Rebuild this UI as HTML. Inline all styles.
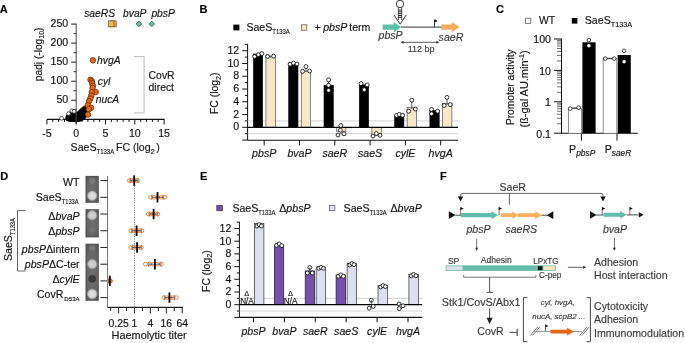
<!DOCTYPE html>
<html><head><meta charset="utf-8"><style>
html,body{margin:0;padding:0;background:#fff;overflow:hidden;}
svg{display:block;will-change:transform;}
text{font-family:"Liberation Sans", sans-serif;}
</style></head><body>
<svg width="685" height="343" viewBox="0 0 685 343">
<defs><radialGradient id="plr" cx="0.5" cy="0.5" r="0.7"><stop offset="0" stop-color="#6e6e6e"/><stop offset="0.6" stop-color="#666"/><stop offset="1" stop-color="#545454"/></radialGradient>
<radialGradient id="big" cx="0.5" cy="0.5" r="0.5"><stop offset="0" stop-color="#e4e4e4"/><stop offset="0.7" stop-color="#d6d6d6"/><stop offset="1" stop-color="#b8b8b8"/></radialGradient>
<radialGradient id="big2" cx="0.5" cy="0.5" r="0.5"><stop offset="0" stop-color="#d4d4d4"/><stop offset="0.7" stop-color="#c8c8c8"/><stop offset="1" stop-color="#aaaaaa"/></radialGradient></defs>
<rect width="685" height="343" fill="#fff"/>
<text x="-0.3" y="12.7" font-size="11" text-anchor="start" fill="#000" stroke="#000" stroke-width="0.15" font-weight="bold" >A</text>
<text x="199.4" y="12.7" font-size="11" text-anchor="start" fill="#000" stroke="#000" stroke-width="0.15" font-weight="bold" >B</text>
<text x="495.9" y="12.7" font-size="11" text-anchor="start" fill="#000" stroke="#000" stroke-width="0.15" font-weight="bold" >C</text>
<text x="0.2" y="179.7" font-size="11" text-anchor="start" fill="#000" stroke="#000" stroke-width="0.15" font-weight="bold" >D</text>
<text x="199.9" y="179.7" font-size="11" text-anchor="start" fill="#000" stroke="#000" stroke-width="0.15" font-weight="bold" >E</text>
<text x="439.9" y="179.7" font-size="11" text-anchor="start" fill="#000" stroke="#000" stroke-width="0.15" font-weight="bold" >F</text>
<line x1="71.2" y1="119.3" x2="76.2" y2="119.3" stroke="#222" stroke-width="1" />
<line x1="73.6" y1="109.78" x2="76.2" y2="109.78" stroke="#222" stroke-width="1" />
<line x1="71.2" y1="100.25999999999999" x2="76.2" y2="100.25999999999999" stroke="#222" stroke-width="1" />
<text x="68.2" y="103.35999999999999" font-size="10.6" text-anchor="end" fill="#141414" stroke="#141414" stroke-width="0.15" >50</text>
<line x1="73.6" y1="90.74" x2="76.2" y2="90.74" stroke="#222" stroke-width="1" />
<line x1="71.2" y1="81.22" x2="76.2" y2="81.22" stroke="#222" stroke-width="1" />
<text x="68.2" y="84.32" font-size="10.6" text-anchor="end" fill="#141414" stroke="#141414" stroke-width="0.15" >100</text>
<line x1="73.6" y1="71.69999999999999" x2="76.2" y2="71.69999999999999" stroke="#222" stroke-width="1" />
<line x1="71.2" y1="62.17999999999999" x2="76.2" y2="62.17999999999999" stroke="#222" stroke-width="1" />
<text x="68.2" y="65.27999999999999" font-size="10.6" text-anchor="end" fill="#141414" stroke="#141414" stroke-width="0.15" >150</text>
<line x1="73.6" y1="52.66" x2="76.2" y2="52.66" stroke="#222" stroke-width="1" />
<line x1="71.2" y1="43.139999999999986" x2="76.2" y2="43.139999999999986" stroke="#222" stroke-width="1" />
<text x="68.2" y="46.23999999999999" font-size="10.6" text-anchor="end" fill="#141414" stroke="#141414" stroke-width="0.15" >200</text>
<line x1="73.6" y1="33.61999999999999" x2="76.2" y2="33.61999999999999" stroke="#222" stroke-width="1" />
<line x1="71.2" y1="24.099999999999994" x2="76.2" y2="24.099999999999994" stroke="#222" stroke-width="1" />
<text x="68.2" y="27.199999999999996" font-size="10.6" text-anchor="end" fill="#141414" stroke="#141414" stroke-width="0.15" >250</text>
<line x1="46.900000000000006" y1="119.4" x2="164.60000000000002" y2="119.4" stroke="#111" stroke-width="1.1" />
<line x1="46.900000000000006" y1="119.4" x2="46.900000000000006" y2="124.4" stroke="#111" stroke-width="1" />
<text x="46.900000000000006" y="136.6" font-size="10.6" text-anchor="middle" fill="#141414" stroke="#141414" stroke-width="0.15" >-5</text>
<line x1="52.760000000000005" y1="119.4" x2="52.760000000000005" y2="121.9" stroke="#111" stroke-width="1" />
<line x1="58.620000000000005" y1="119.4" x2="58.620000000000005" y2="121.9" stroke="#111" stroke-width="1" />
<line x1="64.48" y1="119.4" x2="64.48" y2="121.9" stroke="#111" stroke-width="1" />
<line x1="70.34" y1="119.4" x2="70.34" y2="121.9" stroke="#111" stroke-width="1" />
<line x1="76.2" y1="119.4" x2="76.2" y2="124.4" stroke="#111" stroke-width="1" />
<text x="76.2" y="136.6" font-size="10.6" text-anchor="middle" fill="#141414" stroke="#141414" stroke-width="0.15" >0</text>
<line x1="82.06" y1="119.4" x2="82.06" y2="121.9" stroke="#111" stroke-width="1" />
<line x1="87.92" y1="119.4" x2="87.92" y2="121.9" stroke="#111" stroke-width="1" />
<line x1="93.78" y1="119.4" x2="93.78" y2="121.9" stroke="#111" stroke-width="1" />
<line x1="99.64" y1="119.4" x2="99.64" y2="121.9" stroke="#111" stroke-width="1" />
<line x1="105.5" y1="119.4" x2="105.5" y2="124.4" stroke="#111" stroke-width="1" />
<text x="105.5" y="136.6" font-size="10.6" text-anchor="middle" fill="#141414" stroke="#141414" stroke-width="0.15" >5</text>
<line x1="111.36000000000001" y1="119.4" x2="111.36000000000001" y2="121.9" stroke="#111" stroke-width="1" />
<line x1="117.22" y1="119.4" x2="117.22" y2="121.9" stroke="#111" stroke-width="1" />
<line x1="123.08000000000001" y1="119.4" x2="123.08000000000001" y2="121.9" stroke="#111" stroke-width="1" />
<line x1="128.94" y1="119.4" x2="128.94" y2="121.9" stroke="#111" stroke-width="1" />
<line x1="134.8" y1="119.4" x2="134.8" y2="124.4" stroke="#111" stroke-width="1" />
<text x="134.8" y="136.6" font-size="10.6" text-anchor="middle" fill="#141414" stroke="#141414" stroke-width="0.15" >10</text>
<line x1="140.66000000000003" y1="119.4" x2="140.66000000000003" y2="121.9" stroke="#111" stroke-width="1" />
<line x1="146.52" y1="119.4" x2="146.52" y2="121.9" stroke="#111" stroke-width="1" />
<line x1="152.38" y1="119.4" x2="152.38" y2="121.9" stroke="#111" stroke-width="1" />
<line x1="158.24" y1="119.4" x2="158.24" y2="121.9" stroke="#111" stroke-width="1" />
<line x1="164.10000000000002" y1="119.4" x2="164.10000000000002" y2="124.4" stroke="#111" stroke-width="1" />
<text x="164.10000000000002" y="136.6" font-size="10.6" text-anchor="middle" fill="#141414" stroke="#141414" stroke-width="0.15" >15</text>
<text x="70.6" y="151" font-size="10.6" fill="#141414" stroke="#141414" stroke-width="0.15">SaeS<tspan font-size="7.4" dy="2.9" textLength="17.6" lengthAdjust="spacingAndGlyphs">T133A</tspan><tspan font-size="10.6" dy="-2.9" dx="1.8">FC (log</tspan><tspan font-size="7.2" dy="2.6">2</tspan><tspan font-size="10.6" dy="-2.6" dx="1.5">)</tspan></text>
<text transform="translate(41.6,81.2) rotate(-90)" x="0" y="0" font-size="10.2" fill="#141414" stroke="#141414" stroke-width="0.15">padj (-log<tspan font-size="7" dy="2.4">10</tspan><tspan font-size="10.2" dy="-2.4">)</tspan></text>
<text x="84.2" y="16.6" font-size="10.3" text-anchor="start" fill="#141414" stroke="#141414" stroke-width="0.15" font-style="italic" >saeRS</text>
<text x="123.0" y="16.6" font-size="10.3" text-anchor="start" fill="#141414" stroke="#141414" stroke-width="0.15" font-style="italic" >bvaP</text>
<text x="151.4" y="16.6" font-size="10.3" text-anchor="start" fill="#141414" stroke="#141414" stroke-width="0.15" font-style="italic" >pbsP</text>
<rect x="110.4" y="20.9" width="5.8" height="5.9" fill="#f7a848" stroke="#6a4a1a" stroke-width="0.7" />
<rect x="108.6" y="20.9" width="5.4" height="5.9" fill="#f9b664" stroke="#6a4a1a" stroke-width="0.7" />
<path d="M139.0,21.099999999999998 L141.8,23.9 L139.0,26.7 L136.2,23.9 Z" fill="#5fbcaa" stroke="#2a4a44" stroke-width="0.7" />
<path d="M151.8,21.099999999999998 L154.60000000000002,23.9 L151.8,26.7 L149.0,23.9 Z" fill="#5fbcaa" stroke="#2a4a44" stroke-width="0.7" />
<circle cx="85.0" cy="108.4" r="2.75" fill="#e56a18" stroke="#5a2000" stroke-width="0.7" />
<circle cx="83.2" cy="110.0" r="2.75" fill="#e56a18" stroke="#5a2000" stroke-width="0.7" />
<circle cx="81.5" cy="111.6" r="2.75" fill="#e56a18" stroke="#5a2000" stroke-width="0.7" />
<path d="M65.3,118.8 C65.4,115.5 67.5,112.6 70.4,112.0 L75.5,112.8 L78.4,110.8 L84.0,106.6 C85.8,105.9 87.2,107.2 87.2,109.0 L87.0,115.5 C86.0,120.0 81,122.2 76.5,122.2 L69,121.8 C66.6,121.4 65.3,120.6 65.3,118.8 Z" fill="#000" stroke="none" stroke-width="1" />
<circle cx="71.8" cy="110.8" r="1.9" fill="#fff" stroke="#222" stroke-width="0.7" />
<circle cx="74.1" cy="111.4" r="1.9" fill="#fff" stroke="#222" stroke-width="0.7" />
<circle cx="61.6" cy="118.3" r="1.9" fill="#fff" stroke="#222" stroke-width="0.7" />
<circle cx="68.6" cy="113.6" r="1.9" fill="#fff" stroke="#222" stroke-width="0.7" />
<circle cx="92.9" cy="60.3" r="2.75" fill="#e56a18" stroke="#5a2000" stroke-width="0.7" />
<circle cx="90.5" cy="79.8" r="2.75" fill="#e56a18" stroke="#5a2000" stroke-width="0.7" />
<circle cx="91.8" cy="81.2" r="2.75" fill="#e56a18" stroke="#5a2000" stroke-width="0.7" />
<circle cx="92.2" cy="83.2" r="2.75" fill="#e56a18" stroke="#5a2000" stroke-width="0.7" />
<circle cx="92.9" cy="85.7" r="2.75" fill="#e56a18" stroke="#5a2000" stroke-width="0.7" />
<circle cx="92.5" cy="88" r="2.75" fill="#e56a18" stroke="#5a2000" stroke-width="0.7" />
<circle cx="95.7" cy="92.1" r="2.75" fill="#e56a18" stroke="#5a2000" stroke-width="0.7" />
<circle cx="91.8" cy="92.1" r="2.75" fill="#e56a18" stroke="#5a2000" stroke-width="0.7" />
<circle cx="91.3" cy="95.6" r="2.75" fill="#e56a18" stroke="#5a2000" stroke-width="0.7" />
<circle cx="90.3" cy="98.6" r="2.75" fill="#e56a18" stroke="#5a2000" stroke-width="0.7" />
<circle cx="89.0" cy="101.2" r="2.75" fill="#e56a18" stroke="#5a2000" stroke-width="0.7" />
<circle cx="87.8" cy="105.2" r="2.75" fill="#e56a18" stroke="#5a2000" stroke-width="0.7" />
<circle cx="91.1" cy="107.8" r="2.75" fill="#e56a18" stroke="#5a2000" stroke-width="0.7" />
<circle cx="88.8" cy="109.2" r="2.75" fill="#e56a18" stroke="#5a2000" stroke-width="0.7" />
<circle cx="88.0" cy="114.6" r="2.75" fill="#e56a18" stroke="#5a2000" stroke-width="0.7" />
<line x1="76.2" y1="23.599999999999994" x2="76.2" y2="124.5" stroke="#4a4a4a" stroke-width="1" />
<text x="97.1" y="63.9" font-size="10.3" text-anchor="start" fill="#141414" stroke="#141414" stroke-width="0.15" font-style="italic" >hvgA</text>
<text x="97.8" y="84.7" font-size="10.3" text-anchor="start" fill="#141414" stroke="#141414" stroke-width="0.15" font-style="italic" >cyl</text>
<text x="95.7" y="102.6" font-size="10.3" text-anchor="start" fill="#141414" stroke="#141414" stroke-width="0.15" font-style="italic" >nucA</text>
<path d="M133.9,56.6 L144.1,56.6 L144.1,112.9 L133.9,112.9" fill="none" stroke="#bdbdbd" stroke-width="1" />
<text x="148.6" y="78.6" font-size="10.4" text-anchor="start" fill="#141414" stroke="#141414" stroke-width="0.15" >CovR</text>
<text x="148.6" y="90.8" font-size="10.4" text-anchor="start" fill="#141414" stroke="#141414" stroke-width="0.15" >direct</text>
<line x1="247.6" y1="44.06" x2="247.6" y2="140.2" stroke="#111" stroke-width="1" />
<line x1="242.2" y1="140.06" x2="247.6" y2="140.06" stroke="#111" stroke-width="1" />
<line x1="244.9" y1="133.68" x2="247.6" y2="133.68" stroke="#111" stroke-width="1" />
<line x1="242.2" y1="127.3" x2="247.6" y2="127.3" stroke="#111" stroke-width="1" />
<text x="239.2" y="130.4" font-size="10.6" text-anchor="end" fill="#141414" stroke="#141414" stroke-width="0.15" >0</text>
<line x1="244.9" y1="120.92" x2="247.6" y2="120.92" stroke="#111" stroke-width="1" />
<line x1="242.2" y1="114.53999999999999" x2="247.6" y2="114.53999999999999" stroke="#111" stroke-width="1" />
<text x="239.2" y="117.63999999999999" font-size="10.6" text-anchor="end" fill="#141414" stroke="#141414" stroke-width="0.15" >2</text>
<line x1="244.9" y1="108.16" x2="247.6" y2="108.16" stroke="#111" stroke-width="1" />
<line x1="242.2" y1="101.78" x2="247.6" y2="101.78" stroke="#111" stroke-width="1" />
<text x="239.2" y="104.88" font-size="10.6" text-anchor="end" fill="#141414" stroke="#141414" stroke-width="0.15" >4</text>
<line x1="244.9" y1="95.4" x2="247.6" y2="95.4" stroke="#111" stroke-width="1" />
<line x1="242.2" y1="89.02" x2="247.6" y2="89.02" stroke="#111" stroke-width="1" />
<text x="239.2" y="92.11999999999999" font-size="10.6" text-anchor="end" fill="#141414" stroke="#141414" stroke-width="0.15" >6</text>
<line x1="244.9" y1="82.64" x2="247.6" y2="82.64" stroke="#111" stroke-width="1" />
<line x1="242.2" y1="76.25999999999999" x2="247.6" y2="76.25999999999999" stroke="#111" stroke-width="1" />
<text x="239.2" y="79.35999999999999" font-size="10.6" text-anchor="end" fill="#141414" stroke="#141414" stroke-width="0.15" >8</text>
<line x1="244.9" y1="69.88" x2="247.6" y2="69.88" stroke="#111" stroke-width="1" />
<line x1="242.2" y1="63.5" x2="247.6" y2="63.5" stroke="#111" stroke-width="1" />
<text x="239.2" y="66.6" font-size="10.6" text-anchor="end" fill="#141414" stroke="#141414" stroke-width="0.15" >10</text>
<line x1="244.9" y1="57.120000000000005" x2="247.6" y2="57.120000000000005" stroke="#111" stroke-width="1" />
<line x1="242.2" y1="50.739999999999995" x2="247.6" y2="50.739999999999995" stroke="#111" stroke-width="1" />
<text x="239.2" y="53.839999999999996" font-size="10.6" text-anchor="end" fill="#141414" stroke="#141414" stroke-width="0.15" >12</text>
<line x1="244.9" y1="44.36" x2="247.6" y2="44.36" stroke="#111" stroke-width="1" />
<line x1="247.6" y1="120.92" x2="458" y2="120.92" stroke="#c8c8c8" stroke-width="0.8" />
<line x1="247.6" y1="133.68" x2="458" y2="133.68" stroke="#c8c8c8" stroke-width="0.8" />
<line x1="247.6" y1="140.2" x2="458" y2="140.2" stroke="#111" stroke-width="1.1" />
<line x1="264.2" y1="140.2" x2="264.2" y2="145.4" stroke="#111" stroke-width="1" />
<text x="264.2" y="157.4" font-size="10.6" text-anchor="middle" fill="#141414" stroke="#141414" stroke-width="0.15" font-style="italic" >pbsP</text>
<line x1="299.5" y1="140.2" x2="299.5" y2="145.4" stroke="#111" stroke-width="1" />
<text x="299.5" y="157.4" font-size="10.6" text-anchor="middle" fill="#141414" stroke="#141414" stroke-width="0.15" font-style="italic" >bvaP</text>
<line x1="334.79999999999995" y1="140.2" x2="334.79999999999995" y2="145.4" stroke="#111" stroke-width="1" />
<text x="334.79999999999995" y="157.4" font-size="10.6" text-anchor="middle" fill="#141414" stroke="#141414" stroke-width="0.15" font-style="italic" >saeR</text>
<line x1="370.09999999999997" y1="140.2" x2="370.09999999999997" y2="145.4" stroke="#111" stroke-width="1" />
<text x="370.09999999999997" y="157.4" font-size="10.6" text-anchor="middle" fill="#141414" stroke="#141414" stroke-width="0.15" font-style="italic" >saeS</text>
<line x1="405.4" y1="140.2" x2="405.4" y2="145.4" stroke="#111" stroke-width="1" />
<text x="405.4" y="157.4" font-size="10.6" text-anchor="middle" fill="#141414" stroke="#141414" stroke-width="0.15" font-style="italic" >cylE</text>
<line x1="440.7" y1="140.2" x2="440.7" y2="145.4" stroke="#111" stroke-width="1" />
<text x="440.7" y="157.4" font-size="10.6" text-anchor="middle" fill="#141414" stroke="#141414" stroke-width="0.15" font-style="italic" >hvgA</text>
<rect x="253.39999999999998" y="54.0" width="9.3" height="73.3" fill="#000" stroke="#000" stroke-width="0.6" />
<rect x="265.95" y="56.6" width="9.4" height="70.69999999999999" fill="#f6e8c8" stroke="#555" stroke-width="0.7" />
<rect x="288.7" y="63.6" width="9.3" height="63.699999999999996" fill="#000" stroke="#000" stroke-width="0.6" />
<rect x="301.25" y="71.1" width="9.4" height="56.2" fill="#f6e8c8" stroke="#555" stroke-width="0.7" />
<rect x="323.99999999999994" y="85.2" width="9.3" height="42.099999999999994" fill="#000" stroke="#000" stroke-width="0.6" />
<rect x="336.54999999999995" y="127.3" width="9.4" height="4.000000000000014" fill="#f6e8c8" stroke="#555" stroke-width="0.7" />
<rect x="359.29999999999995" y="84.9" width="9.3" height="42.39999999999999" fill="#000" stroke="#000" stroke-width="0.6" />
<rect x="371.84999999999997" y="127.3" width="9.4" height="8.399999999999991" fill="#f6e8c8" stroke="#555" stroke-width="0.7" />
<rect x="394.59999999999997" y="115.5" width="9.3" height="11.799999999999997" fill="#000" stroke="#000" stroke-width="0.6" />
<rect x="407.15" y="107.2" width="9.4" height="20.099999999999994" fill="#f6e8c8" stroke="#555" stroke-width="0.7" />
<rect x="429.9" y="110.5" width="9.3" height="16.799999999999997" fill="#000" stroke="#000" stroke-width="0.6" />
<rect x="442.45" y="103.3" width="9.4" height="24.0" fill="#f6e8c8" stroke="#555" stroke-width="0.7" />
<line x1="247.6" y1="127.3" x2="458" y2="127.3" stroke="#000" stroke-width="1.3" />
<line x1="258.5" y1="53.0" x2="258.5" y2="56" stroke="#333" stroke-width="0.8" />
<line x1="270.5" y1="55.5" x2="270.5" y2="57.5" stroke="#333" stroke-width="0.8" />
<line x1="306" y1="67" x2="306" y2="72" stroke="#333" stroke-width="0.8" />
<line x1="328.6" y1="80" x2="328.6" y2="90" stroke="#333" stroke-width="0.8" />
<line x1="341" y1="126" x2="341" y2="134" stroke="#333" stroke-width="0.8" />
<line x1="376.3" y1="133.5" x2="376.3" y2="136" stroke="#333" stroke-width="0.8" />
<line x1="411.8" y1="100.2" x2="411.8" y2="109" stroke="#333" stroke-width="0.8" />
<line x1="447" y1="97.4" x2="447" y2="105" stroke="#333" stroke-width="0.8" />
<circle cx="254.6" cy="56.5" r="1.95" fill="#fff" stroke="#111" stroke-width="0.85" />
<circle cx="258.4" cy="54.6" r="1.95" fill="#fff" stroke="#111" stroke-width="0.85" />
<circle cx="261.9" cy="53.6" r="1.95" fill="#fff" stroke="#111" stroke-width="0.85" />
<circle cx="267.6" cy="56.4" r="1.95" fill="#fff" stroke="#111" stroke-width="0.85" />
<circle cx="273.6" cy="56.2" r="1.95" fill="#fff" stroke="#111" stroke-width="0.85" />
<circle cx="290.0" cy="64.2" r="1.95" fill="#fff" stroke="#111" stroke-width="0.85" />
<circle cx="293.6" cy="63.1" r="1.95" fill="#fff" stroke="#111" stroke-width="0.85" />
<circle cx="297.0" cy="64.0" r="1.95" fill="#fff" stroke="#111" stroke-width="0.85" />
<circle cx="302.6" cy="71.3" r="1.95" fill="#fff" stroke="#111" stroke-width="0.85" />
<circle cx="306.0" cy="66.6" r="1.95" fill="#fff" stroke="#111" stroke-width="0.85" />
<circle cx="309.6" cy="71.0" r="1.95" fill="#fff" stroke="#111" stroke-width="0.85" />
<circle cx="328.6" cy="79.9" r="1.95" fill="#fff" stroke="#111" stroke-width="0.85" />
<circle cx="328.6" cy="85.3" r="1.95" fill="#fff" stroke="#111" stroke-width="0.85" />
<circle cx="328.6" cy="90.4" r="1.95" fill="#fff" stroke="#111" stroke-width="0.85" />
<circle cx="340.8" cy="125.6" r="1.95" fill="#fff" stroke="#111" stroke-width="0.85" />
<circle cx="338.0" cy="135.0" r="1.95" fill="#fff" stroke="#111" stroke-width="0.85" />
<circle cx="344.0" cy="133.8" r="1.95" fill="#fff" stroke="#111" stroke-width="0.85" />
<circle cx="340.4" cy="130.2" r="1.95" fill="#fff" stroke="#111" stroke-width="0.85" />
<circle cx="361.0" cy="83.6" r="1.95" fill="#fff" stroke="#111" stroke-width="0.85" />
<circle cx="367.1" cy="84.9" r="1.95" fill="#fff" stroke="#111" stroke-width="0.85" />
<circle cx="364.3" cy="89.7" r="1.95" fill="#fff" stroke="#111" stroke-width="0.85" />
<circle cx="373.0" cy="136.1" r="1.95" fill="#fff" stroke="#111" stroke-width="0.85" />
<circle cx="376.3" cy="133.5" r="1.95" fill="#fff" stroke="#111" stroke-width="0.85" />
<circle cx="380.0" cy="135.3" r="1.95" fill="#fff" stroke="#111" stroke-width="0.85" />
<circle cx="396.5" cy="115.5" r="1.95" fill="#fff" stroke="#111" stroke-width="0.85" />
<circle cx="399.3" cy="114.4" r="1.95" fill="#fff" stroke="#111" stroke-width="0.85" />
<circle cx="402.6" cy="115.3" r="1.95" fill="#fff" stroke="#111" stroke-width="0.85" />
<circle cx="411.8" cy="100.2" r="1.95" fill="#fff" stroke="#111" stroke-width="0.85" />
<circle cx="408.7" cy="111.2" r="1.95" fill="#fff" stroke="#111" stroke-width="0.85" />
<circle cx="415.3" cy="109.0" r="1.95" fill="#fff" stroke="#111" stroke-width="0.85" />
<circle cx="431.5" cy="109.4" r="1.95" fill="#fff" stroke="#111" stroke-width="0.85" />
<circle cx="437.6" cy="111.2" r="1.95" fill="#fff" stroke="#111" stroke-width="0.85" />
<circle cx="431.5" cy="113.8" r="1.95" fill="#fff" stroke="#111" stroke-width="0.85" />
<circle cx="447.0" cy="97.4" r="1.95" fill="#fff" stroke="#111" stroke-width="0.85" />
<circle cx="444.2" cy="105.5" r="1.95" fill="#fff" stroke="#111" stroke-width="0.85" />
<circle cx="450.3" cy="104.6" r="1.95" fill="#fff" stroke="#111" stroke-width="0.85" />
<text transform="translate(218.0,114.0) rotate(-90)" font-size="10.4" fill="#141414" stroke="#141414" stroke-width="0.15">FC (log<tspan font-size="7.2" dy="2.5">2</tspan><tspan font-size="10.4" dy="-2.5">)</tspan></text>
<rect x="233.4" y="24.6" width="6.0" height="5.8" fill="#000" stroke="none" stroke-width="0.8" />
<text x="246.4" y="31.1" font-size="10.6" fill="#141414" stroke="#141414" stroke-width="0.15">SaeS<tspan font-size="7.4" dy="3.1" textLength="17.5" lengthAdjust="spacingAndGlyphs">T133A</tspan></text>
<rect x="301.4" y="24.8" width="5.4" height="5.4" fill="#f6e8c8" stroke="#5a5040" stroke-width="0.7" />
<text x="314.6" y="30.6" font-size="10.6" text-anchor="start" fill="#141414" stroke="#141414" stroke-width="0.15" >+</text>
<text x="323.2" y="30.6" font-size="10.6" text-anchor="start" fill="#141414" stroke="#141414" stroke-width="0.15" font-style="italic" >pbsP</text>
<text x="349.2" y="30.6" font-size="10.6" text-anchor="start" fill="#141414" stroke="#141414" stroke-width="0.15" >term</text>
<path d="M382.7,24.6 L393.7,24.6 L393.7,21.9 L401.3,27.1 L393.7,32.4 L393.7,29.7 L382.7,29.7 Z" fill="#62bdaa" stroke="none" stroke-width="1" />
<line x1="401" y1="27.1" x2="441.5" y2="27.1" stroke="#333" stroke-width="1.0" />
<path d="M441.2,24.6 L451.7,24.6 L451.7,21.9 L459.6,27.1 L451.7,32.3 L451.7,29.7 L441.2,29.7 Z" fill="#f9ad5a" stroke="none" stroke-width="1" />
<path d="M434.5,27.1 L434.5,19.9 M434.5,19.7 L437.0,20.9 L434.5,22.1" fill="none" stroke="#111" stroke-width="0.8" />
<path d="M434.5,19.7 L437.0,20.9 L434.5,22.1 Z" fill="#111" stroke="none" stroke-width="1" />
<circle cx="400.0" cy="3.9" r="3.7" fill="none" stroke="#222" stroke-width="0.9" />
<line x1="398.4" y1="7.3" x2="398.4" y2="20.0" stroke="#222" stroke-width="0.8" />
<line x1="401.7" y1="7.3" x2="401.7" y2="20.0" stroke="#222" stroke-width="0.8" />
<line x1="398.4" y1="10.1" x2="401.7" y2="10.1" stroke="#222" stroke-width="0.95" />
<line x1="398.4" y1="11.9" x2="401.7" y2="11.9" stroke="#222" stroke-width="0.95" />
<line x1="398.4" y1="13.7" x2="401.7" y2="13.7" stroke="#222" stroke-width="0.95" />
<line x1="398.4" y1="15.5" x2="401.7" y2="15.5" stroke="#222" stroke-width="0.95" />
<line x1="398.4" y1="17.3" x2="401.7" y2="17.3" stroke="#222" stroke-width="0.95" />
<path d="M394.0,15.0 L400.2,24.2 L406.2,15.0" fill="none" stroke="#222" stroke-width="0.9" />
<text x="378.5" y="39.4" font-size="10.6" text-anchor="start" fill="#3c3c3c" stroke="#3c3c3c" stroke-width="0.15" font-style="italic" >pbsP</text>
<text x="438.6" y="40.6" font-size="10.6" text-anchor="start" fill="#3c3c3c" stroke="#3c3c3c" stroke-width="0.15" font-style="italic" >saeR</text>
<line x1="402.5" y1="42.3" x2="437.5" y2="42.3" stroke="#333" stroke-width="0.8" />
<path d="M400.6,42.3 L403.6,40.8 L403.6,43.8 Z" fill="#333" stroke="none" stroke-width="1" />
<path d="M439.4,42.3 L436.4,40.8 L436.4,43.8 Z" fill="#333" stroke="none" stroke-width="1" />
<text x="421.2" y="52.1" font-size="9.0" text-anchor="middle" fill="#3c3c3c" stroke="#3c3c3c" stroke-width="0.15" >112 bp</text>
<line x1="561.5" y1="38.5" x2="561.5" y2="133.8" stroke="#111" stroke-width="1" />
<line x1="554.0" y1="133.2" x2="561.5" y2="133.2" stroke="#111" stroke-width="1" />
<text x="551.0" y="137.5" font-size="10.6" text-anchor="end" fill="#141414" stroke="#141414" stroke-width="0.15" >0.1</text>
<line x1="557.0" y1="123.74765813615097" x2="561.5" y2="123.74765813615097" stroke="#333" stroke-width="0.7" />
<line x1="557.0" y1="118.21839260180259" x2="561.5" y2="118.21839260180259" stroke="#333" stroke-width="0.7" />
<line x1="557.0" y1="114.29531627230197" x2="561.5" y2="114.29531627230197" stroke="#333" stroke-width="0.7" />
<line x1="557.0" y1="111.252341863849" x2="561.5" y2="111.252341863849" stroke="#333" stroke-width="0.7" />
<line x1="557.0" y1="108.76605073795358" x2="561.5" y2="108.76605073795358" stroke="#333" stroke-width="0.7" />
<line x1="557.0" y1="106.66392154355232" x2="561.5" y2="106.66392154355232" stroke="#333" stroke-width="0.7" />
<line x1="557.0" y1="104.84297440845296" x2="561.5" y2="104.84297440845296" stroke="#333" stroke-width="0.7" />
<line x1="557.0" y1="103.2367852036052" x2="561.5" y2="103.2367852036052" stroke="#333" stroke-width="0.7" />
<line x1="554.0" y1="101.79999999999998" x2="561.5" y2="101.79999999999998" stroke="#111" stroke-width="1" />
<text x="551.0" y="106.09999999999998" font-size="10.6" text-anchor="end" fill="#141414" stroke="#141414" stroke-width="0.15" >1</text>
<line x1="557.0" y1="92.34765813615098" x2="561.5" y2="92.34765813615098" stroke="#333" stroke-width="0.7" />
<line x1="557.0" y1="86.8183926018026" x2="561.5" y2="86.8183926018026" stroke="#333" stroke-width="0.7" />
<line x1="557.0" y1="82.89531627230197" x2="561.5" y2="82.89531627230197" stroke="#333" stroke-width="0.7" />
<line x1="557.0" y1="79.852341863849" x2="561.5" y2="79.852341863849" stroke="#333" stroke-width="0.7" />
<line x1="557.0" y1="77.36605073795357" x2="561.5" y2="77.36605073795357" stroke="#333" stroke-width="0.7" />
<line x1="557.0" y1="75.26392154355233" x2="561.5" y2="75.26392154355233" stroke="#333" stroke-width="0.7" />
<line x1="557.0" y1="73.44297440845295" x2="561.5" y2="73.44297440845295" stroke="#333" stroke-width="0.7" />
<line x1="557.0" y1="71.83678520360519" x2="561.5" y2="71.83678520360519" stroke="#333" stroke-width="0.7" />
<line x1="554.0" y1="70.39999999999999" x2="561.5" y2="70.39999999999999" stroke="#111" stroke-width="1" />
<text x="551.0" y="74.69999999999999" font-size="10.6" text-anchor="end" fill="#141414" stroke="#141414" stroke-width="0.15" >10</text>
<line x1="557.0" y1="60.94765813615098" x2="561.5" y2="60.94765813615098" stroke="#333" stroke-width="0.7" />
<line x1="557.0" y1="55.41839260180258" x2="561.5" y2="55.41839260180258" stroke="#333" stroke-width="0.7" />
<line x1="557.0" y1="51.49531627230196" x2="561.5" y2="51.49531627230196" stroke="#333" stroke-width="0.7" />
<line x1="557.0" y1="48.452341863849" x2="561.5" y2="48.452341863849" stroke="#333" stroke-width="0.7" />
<line x1="557.0" y1="45.96605073795358" x2="561.5" y2="45.96605073795358" stroke="#333" stroke-width="0.7" />
<line x1="557.0" y1="43.86392154355232" x2="561.5" y2="43.86392154355232" stroke="#333" stroke-width="0.7" />
<line x1="557.0" y1="42.04297440845296" x2="561.5" y2="42.04297440845296" stroke="#333" stroke-width="0.7" />
<line x1="557.0" y1="40.4367852036052" x2="561.5" y2="40.4367852036052" stroke="#333" stroke-width="0.7" />
<line x1="554.0" y1="39.0" x2="561.5" y2="39.0" stroke="#111" stroke-width="1" />
<text x="551.0" y="43.3" font-size="10.6" text-anchor="end" fill="#141414" stroke="#141414" stroke-width="0.15" >100</text>
<line x1="561.5" y1="133.3" x2="637.8" y2="133.3" stroke="#111" stroke-width="1.1" />
<line x1="581.4" y1="133.3" x2="581.4" y2="140.6" stroke="#111" stroke-width="1" />
<line x1="617.0" y1="133.3" x2="617.0" y2="140.6" stroke="#111" stroke-width="1" />
<rect x="568.4" y="108.6" width="13.0" height="24.7" fill="#fff" stroke="#777" stroke-width="0.8" />
<rect x="582.4" y="42.3" width="13.2" height="91.0" fill="#000" stroke="none" stroke-width="0.8" />
<rect x="603.2" y="58.1" width="13.6" height="75.2" fill="#fff" stroke="#777" stroke-width="0.8" />
<rect x="617.7" y="55.0" width="13.1" height="78.3" fill="#000" stroke="none" stroke-width="0.8" />
<line x1="570.2" y1="108.4" x2="578.6" y2="107.6" stroke="#222" stroke-width="0.9" />
<circle cx="570.2" cy="108.6" r="1.8" fill="#fff" stroke="#222" stroke-width="0.85" />
<circle cx="578.6" cy="107.6" r="1.8" fill="#fff" stroke="#222" stroke-width="0.85" />
<line x1="605.3" y1="58.6" x2="614.2" y2="58.6" stroke="#222" stroke-width="0.9" />
<circle cx="605.3" cy="58.6" r="1.8" fill="#fff" stroke="#222" stroke-width="0.85" />
<circle cx="614.2" cy="58.6" r="1.8" fill="#fff" stroke="#222" stroke-width="0.85" />
<circle cx="588.9" cy="40.1" r="1.8" fill="#fff" stroke="#222" stroke-width="0.85" />
<circle cx="588.9" cy="45.7" r="1.8" fill="#fff" stroke="none" stroke-width="0" />
<circle cx="624.1" cy="50.8" r="1.8" fill="#fff" stroke="#222" stroke-width="0.85" />
<circle cx="624.1" cy="61.7" r="1.8" fill="#fff" stroke="none" stroke-width="0" />
<rect x="525.6" y="18.2" width="5.2" height="5.2" fill="#fff" stroke="#666" stroke-width="0.8" />
<text x="538.9" y="24.0" font-size="10.4" text-anchor="start" fill="#141414" stroke="#141414" stroke-width="0.15" >WT</text>
<rect x="571.8" y="18.0" width="5.6" height="5.6" fill="#000" stroke="none" stroke-width="0.8" />
<text x="584.8" y="24.0" font-size="10.6" fill="#141414" stroke="#141414" stroke-width="0.15">SaeS<tspan font-size="7.3" dy="2.8">T133A</tspan></text>
<text x="569.1" y="153.3" font-size="10.6" fill="#141414" stroke="#141414" stroke-width="0.15">P<tspan font-size="8.4" dy="3" font-style="italic">pbsP</tspan></text>
<text x="604.7" y="153.3" font-size="10.6" fill="#141414" stroke="#141414" stroke-width="0.15">P<tspan font-size="8.4" dy="3" font-style="italic">saeR</tspan></text>
<text transform="translate(513.9,125.1) rotate(-90)" font-size="10.3" fill="#141414" stroke="#141414" stroke-width="0.15" textLength="75.8" lengthAdjust="spacingAndGlyphs">Promoter activity</text>
<text transform="translate(527.8,127.5) rotate(-90)" font-size="10.4" fill="#141414" stroke="#141414" stroke-width="0.15" textLength="77.3" lengthAdjust="spacingAndGlyphs">(ß-gal AU.min<tspan font-size="7" dy="-3.5">-1</tspan><tspan dy="3.5">)</tspan></text>
<line x1="107.5" y1="176.0" x2="107.5" y2="307.6" stroke="#777" stroke-width="1" />
<line x1="100.4" y1="180.6" x2="107.5" y2="180.6" stroke="#222" stroke-width="1" />
<line x1="100.4" y1="197.32" x2="107.5" y2="197.32" stroke="#222" stroke-width="1" />
<line x1="100.4" y1="214.04" x2="107.5" y2="214.04" stroke="#222" stroke-width="1" />
<line x1="100.4" y1="230.76" x2="107.5" y2="230.76" stroke="#222" stroke-width="1" />
<line x1="100.4" y1="247.48" x2="107.5" y2="247.48" stroke="#222" stroke-width="1" />
<line x1="100.4" y1="264.2" x2="107.5" y2="264.2" stroke="#222" stroke-width="1" />
<line x1="100.4" y1="280.91999999999996" x2="107.5" y2="280.91999999999996" stroke="#222" stroke-width="1" />
<line x1="100.4" y1="297.64" x2="107.5" y2="297.64" stroke="#222" stroke-width="1" />
<line x1="107.5" y1="307.4" x2="183.0" y2="307.4" stroke="#222" stroke-width="1.1" />
<line x1="110.65" y1="307.4" x2="110.65" y2="311.0" stroke="#222" stroke-width="1" />
<line x1="118.6" y1="307.4" x2="118.6" y2="313.4" stroke="#222" stroke-width="1" />
<line x1="126.55" y1="307.4" x2="126.55" y2="311.0" stroke="#222" stroke-width="1" />
<line x1="134.5" y1="307.4" x2="134.5" y2="313.4" stroke="#222" stroke-width="1" />
<line x1="142.45" y1="307.4" x2="142.45" y2="311.0" stroke="#222" stroke-width="1" />
<line x1="150.4" y1="307.4" x2="150.4" y2="313.4" stroke="#222" stroke-width="1" />
<line x1="158.35" y1="307.4" x2="158.35" y2="311.0" stroke="#222" stroke-width="1" />
<line x1="166.3" y1="307.4" x2="166.3" y2="313.4" stroke="#222" stroke-width="1" />
<line x1="174.25" y1="307.4" x2="174.25" y2="311.0" stroke="#222" stroke-width="1" />
<line x1="182.2" y1="307.4" x2="182.2" y2="313.4" stroke="#222" stroke-width="1" />
<text x="118.6" y="327.2" font-size="10.4" text-anchor="middle" fill="#141414" stroke="#141414" stroke-width="0.15" >0.25</text>
<text x="134.5" y="327.2" font-size="10.4" text-anchor="middle" fill="#141414" stroke="#141414" stroke-width="0.15" >1</text>
<text x="150.4" y="327.2" font-size="10.4" text-anchor="middle" fill="#141414" stroke="#141414" stroke-width="0.15" >4</text>
<text x="166.3" y="327.2" font-size="10.4" text-anchor="middle" fill="#141414" stroke="#141414" stroke-width="0.15" >16</text>
<text x="182.2" y="327.2" font-size="10.4" text-anchor="middle" fill="#141414" stroke="#141414" stroke-width="0.15" >64</text>
<text x="111.6" y="339.0" font-size="10.9" text-anchor="start" fill="#141414" stroke="#141414" stroke-width="0.15" >Haemolytic titer</text>
<line x1="134.5" y1="176" x2="134.5" y2="307" stroke="#333" stroke-width="0.6" stroke-dasharray="1.2,1.2"/>
<rect x="85.5" y="175.9" width="13.3" height="26.900000000000006" fill="#4e4e4e" stroke="none" stroke-width="0.8" />
<rect x="86.3" y="176.70000000000002" width="11.7" height="25.300000000000004" fill="url(#plr)" stroke="none" stroke-width="0.8" />
<rect x="85.5" y="209.2" width="13.3" height="28.200000000000017" fill="#4e4e4e" stroke="none" stroke-width="0.8" />
<rect x="86.3" y="210.0" width="11.7" height="26.600000000000016" fill="url(#plr)" stroke="none" stroke-width="0.8" />
<rect x="85.5" y="243.7" width="13.3" height="57.10000000000002" fill="#4e4e4e" stroke="none" stroke-width="0.8" />
<rect x="86.3" y="244.5" width="11.7" height="55.50000000000002" fill="url(#plr)" stroke="none" stroke-width="0.8" />
<circle cx="92.2" cy="181.2" r="3.1" fill="#7c7c7c" stroke="#6a6a6a" stroke-width="0.6" />
<circle cx="92.2" cy="195.8" r="4.7" fill="url(#big)" stroke="#a8a8a8" stroke-width="0.6" />
<circle cx="92.2" cy="215.3" r="4.7" fill="url(#big2)" stroke="#a0a0a0" stroke-width="0.6" />
<circle cx="92.2" cy="230.2" r="3.1" fill="#747474" stroke="#666" stroke-width="0.6" />
<circle cx="92.2" cy="248.2" r="3.0" fill="#787878" stroke="#6a6a6a" stroke-width="0.6" />
<circle cx="92.2" cy="264.1" r="4.7" fill="url(#big2)" stroke="#a0a0a0" stroke-width="0.6" />
<circle cx="92.2" cy="278.8" r="3.5" fill="#3c3c3c" stroke="#333" stroke-width="0.6" />
<circle cx="92.2" cy="294.0" r="4.8" fill="url(#big)" stroke="#aaa" stroke-width="0.6" />
<text x="79.6" y="186.1" font-size="10.6" text-anchor="end" fill="#141414" stroke="#141414" stroke-width="0.15" >WT</text>
<text x="78.6" y="204.1" font-size="7.2" fill="#141414" stroke="#141414" stroke-width="0.15" text-anchor="end"><tspan textLength="16.8" lengthAdjust="spacingAndGlyphs">T133A</tspan></text>
<text x="61.6" y="201.1" font-size="10.6" text-anchor="end" fill="#141414" stroke="#141414" stroke-width="0.15" >SaeS</text>
<text x="79.6" y="219.5" font-size="10.6" text-anchor="end" fill="#141414" stroke="#141414" stroke-width="0.15">Δ<tspan font-style="italic">bvaP</tspan></text>
<text x="79.6" y="235.3" font-size="10.6" text-anchor="end" fill="#141414" stroke="#141414" stroke-width="0.15">Δ<tspan font-style="italic">pbsP</tspan></text>
<text x="79.6" y="253.0" font-size="10.6" text-anchor="end" fill="#141414" stroke="#141414" stroke-width="0.15"><tspan font-style="italic">pbsP</tspan>Δintern</text>
<text x="79.6" y="268.0" font-size="10.6" text-anchor="end" fill="#141414" stroke="#141414" stroke-width="0.15"><tspan font-style="italic">pbsP</tspan>ΔC-ter</text>
<text x="79.6" y="282.6" font-size="10.6" text-anchor="end" fill="#141414" stroke="#141414" stroke-width="0.15">Δ<tspan font-style="italic">cylE</tspan></text>
<text x="79.6" y="301.1" font-size="6.1" text-anchor="end" fill="#141414" stroke="#141414" stroke-width="0.15">D53A</text>
<text x="63.4" y="297.6" font-size="10.6" text-anchor="end" fill="#141414" stroke="#141414" stroke-width="0.15" >CovR</text>
<path d="M25.4,210.6 L17.5,210.6 L17.5,271.0 L25.6,271.0" fill="none" stroke="#666" stroke-width="1" />
<text transform="translate(12.2,261) rotate(-90)" font-size="10.6" fill="#141414" stroke="#141414" stroke-width="0.15">SaeS<tspan font-size="7.2" dy="3.2" textLength="17" lengthAdjust="spacingAndGlyphs">T133A</tspan></text>
<ellipse cx="129.40" cy="180.60" rx="2.1" ry="1.8" fill="none" stroke="#ee8532" stroke-width="0.95"/>
<ellipse cx="131.47" cy="180.60" rx="2.1" ry="1.8" fill="none" stroke="#ee8532" stroke-width="0.95"/>
<ellipse cx="133.55" cy="180.60" rx="2.1" ry="1.8" fill="none" stroke="#ee8532" stroke-width="0.95"/>
<ellipse cx="135.62" cy="180.60" rx="2.1" ry="1.8" fill="none" stroke="#ee8532" stroke-width="0.95"/>
<ellipse cx="137.70" cy="180.60" rx="2.1" ry="1.8" fill="none" stroke="#ee8532" stroke-width="0.95"/>
<line x1="130.35625" y1="180.6" x2="138.04375" y2="180.6" stroke="#333" stroke-width="0.7" />
<line x1="130.35625" y1="178.0" x2="130.35625" y2="183.2" stroke="#555" stroke-width="0.6" />
<line x1="138.04375" y1="178.0" x2="138.04375" y2="183.2" stroke="#555" stroke-width="0.6" />
<line x1="134.2" y1="175.4" x2="134.2" y2="185.79999999999998" stroke="#000" stroke-width="1.8" />
<ellipse cx="150.70" cy="197.32" rx="2.1" ry="1.8" fill="none" stroke="#ee8532" stroke-width="0.95"/>
<ellipse cx="154.22" cy="197.32" rx="2.1" ry="1.8" fill="none" stroke="#ee8532" stroke-width="0.95"/>
<ellipse cx="157.75" cy="197.32" rx="2.1" ry="1.8" fill="none" stroke="#ee8532" stroke-width="0.95"/>
<ellipse cx="161.28" cy="197.32" rx="2.1" ry="1.8" fill="none" stroke="#ee8532" stroke-width="0.95"/>
<ellipse cx="164.80" cy="197.32" rx="2.1" ry="1.8" fill="none" stroke="#ee8532" stroke-width="0.95"/>
<line x1="151.84375" y1="197.32" x2="163.15625" y2="197.32" stroke="#333" stroke-width="0.7" />
<line x1="151.84375" y1="194.72" x2="151.84375" y2="199.92" stroke="#555" stroke-width="0.6" />
<line x1="163.15625" y1="194.72" x2="163.15625" y2="199.92" stroke="#555" stroke-width="0.6" />
<line x1="157.5" y1="192.12" x2="157.5" y2="202.51999999999998" stroke="#000" stroke-width="1.8" />
<ellipse cx="148.40" cy="214.04" rx="2.1" ry="1.8" fill="none" stroke="#ee8532" stroke-width="0.95"/>
<ellipse cx="150.72" cy="214.04" rx="2.1" ry="1.8" fill="none" stroke="#ee8532" stroke-width="0.95"/>
<ellipse cx="153.05" cy="214.04" rx="2.1" ry="1.8" fill="none" stroke="#ee8532" stroke-width="0.95"/>
<ellipse cx="155.38" cy="214.04" rx="2.1" ry="1.8" fill="none" stroke="#ee8532" stroke-width="0.95"/>
<ellipse cx="157.70" cy="214.04" rx="2.1" ry="1.8" fill="none" stroke="#ee8532" stroke-width="0.95"/>
<line x1="149.44375" y1="214.04" x2="157.75625" y2="214.04" stroke="#333" stroke-width="0.7" />
<line x1="149.44375" y1="211.44" x2="149.44375" y2="216.64" stroke="#555" stroke-width="0.6" />
<line x1="157.75625" y1="211.44" x2="157.75625" y2="216.64" stroke="#555" stroke-width="0.6" />
<line x1="153.6" y1="208.84" x2="153.6" y2="219.23999999999998" stroke="#000" stroke-width="1.8" />
<ellipse cx="131.00" cy="230.76" rx="2.1" ry="1.8" fill="none" stroke="#ee8532" stroke-width="0.95"/>
<ellipse cx="133.70" cy="230.76" rx="2.1" ry="1.8" fill="none" stroke="#ee8532" stroke-width="0.95"/>
<ellipse cx="136.40" cy="230.76" rx="2.1" ry="1.8" fill="none" stroke="#ee8532" stroke-width="0.95"/>
<ellipse cx="139.10" cy="230.76" rx="2.1" ry="1.8" fill="none" stroke="#ee8532" stroke-width="0.95"/>
<ellipse cx="141.80" cy="230.76" rx="2.1" ry="1.8" fill="none" stroke="#ee8532" stroke-width="0.95"/>
<line x1="131.975" y1="230.76" x2="141.225" y2="230.76" stroke="#333" stroke-width="0.7" />
<line x1="131.975" y1="228.16" x2="131.975" y2="233.35999999999999" stroke="#555" stroke-width="0.6" />
<line x1="141.225" y1="228.16" x2="141.225" y2="233.35999999999999" stroke="#555" stroke-width="0.6" />
<line x1="136.6" y1="225.56" x2="136.6" y2="235.95999999999998" stroke="#000" stroke-width="1.8" />
<ellipse cx="130.90" cy="247.48" rx="2.1" ry="1.8" fill="none" stroke="#ee8532" stroke-width="0.95"/>
<ellipse cx="133.47" cy="247.48" rx="2.1" ry="1.8" fill="none" stroke="#ee8532" stroke-width="0.95"/>
<ellipse cx="136.05" cy="247.48" rx="2.1" ry="1.8" fill="none" stroke="#ee8532" stroke-width="0.95"/>
<ellipse cx="138.62" cy="247.48" rx="2.1" ry="1.8" fill="none" stroke="#ee8532" stroke-width="0.95"/>
<ellipse cx="141.20" cy="247.48" rx="2.1" ry="1.8" fill="none" stroke="#ee8532" stroke-width="0.95"/>
<line x1="132.63125" y1="247.48" x2="141.56875" y2="247.48" stroke="#333" stroke-width="0.7" />
<line x1="132.63125" y1="244.88" x2="132.63125" y2="250.07999999999998" stroke="#555" stroke-width="0.6" />
<line x1="141.56875" y1="244.88" x2="141.56875" y2="250.07999999999998" stroke="#555" stroke-width="0.6" />
<line x1="137.1" y1="242.28" x2="137.1" y2="252.67999999999998" stroke="#000" stroke-width="1.8" />
<ellipse cx="145.50" cy="264.20" rx="2.1" ry="1.8" fill="none" stroke="#ee8532" stroke-width="0.95"/>
<ellipse cx="149.45" cy="264.20" rx="2.1" ry="1.8" fill="none" stroke="#ee8532" stroke-width="0.95"/>
<ellipse cx="153.40" cy="264.20" rx="2.1" ry="1.8" fill="none" stroke="#ee8532" stroke-width="0.95"/>
<ellipse cx="157.35" cy="264.20" rx="2.1" ry="1.8" fill="none" stroke="#ee8532" stroke-width="0.95"/>
<ellipse cx="161.30" cy="264.20" rx="2.1" ry="1.8" fill="none" stroke="#ee8532" stroke-width="0.95"/>
<line x1="148.7125" y1="264.2" x2="161.0875" y2="264.2" stroke="#333" stroke-width="0.7" />
<line x1="148.7125" y1="261.59999999999997" x2="148.7125" y2="266.8" stroke="#555" stroke-width="0.6" />
<line x1="161.0875" y1="261.59999999999997" x2="161.0875" y2="266.8" stroke="#555" stroke-width="0.6" />
<line x1="154.9" y1="259.0" x2="154.9" y2="269.4" stroke="#000" stroke-width="1.8" />
<ellipse cx="110.40" cy="280.92" rx="2.1" ry="1.8" fill="none" stroke="#ee8532" stroke-width="0.95"/>
<ellipse cx="110.20" cy="280.92" rx="2.1" ry="1.8" fill="none" stroke="#ee8532" stroke-width="0.95"/>
<ellipse cx="110.00" cy="280.92" rx="2.1" ry="1.8" fill="none" stroke="#ee8532" stroke-width="0.95"/>
<ellipse cx="109.80" cy="280.92" rx="2.1" ry="1.8" fill="none" stroke="#ee8532" stroke-width="0.95"/>
<ellipse cx="109.60" cy="280.92" rx="2.1" ry="1.8" fill="none" stroke="#ee8532" stroke-width="0.95"/>
<line x1="108.8" y1="280.91999999999996" x2="110.8" y2="280.91999999999996" stroke="#333" stroke-width="0.7" />
<line x1="108.8" y1="278.31999999999994" x2="108.8" y2="283.52" stroke="#555" stroke-width="0.6" />
<line x1="110.8" y1="278.31999999999994" x2="110.8" y2="283.52" stroke="#555" stroke-width="0.6" />
<line x1="109.8" y1="275.71999999999997" x2="109.8" y2="286.11999999999995" stroke="#000" stroke-width="1.8" />
<ellipse cx="164.00" cy="297.64" rx="2.1" ry="1.8" fill="none" stroke="#ee8532" stroke-width="0.95"/>
<ellipse cx="167.05" cy="297.64" rx="2.1" ry="1.8" fill="none" stroke="#ee8532" stroke-width="0.95"/>
<ellipse cx="170.10" cy="297.64" rx="2.1" ry="1.8" fill="none" stroke="#ee8532" stroke-width="0.95"/>
<ellipse cx="173.15" cy="297.64" rx="2.1" ry="1.8" fill="none" stroke="#ee8532" stroke-width="0.95"/>
<ellipse cx="176.20" cy="297.64" rx="2.1" ry="1.8" fill="none" stroke="#ee8532" stroke-width="0.95"/>
<line x1="164.3375" y1="297.64" x2="174.4625" y2="297.64" stroke="#333" stroke-width="0.7" />
<line x1="164.3375" y1="295.03999999999996" x2="164.3375" y2="300.24" stroke="#555" stroke-width="0.6" />
<line x1="174.4625" y1="295.03999999999996" x2="174.4625" y2="300.24" stroke="#555" stroke-width="0.6" />
<line x1="169.4" y1="292.44" x2="169.4" y2="302.84" stroke="#000" stroke-width="1.8" />
<line x1="239.4" y1="221.84999999999997" x2="239.4" y2="317.4" stroke="#111" stroke-width="1" />
<line x1="234.3" y1="317.4" x2="239.4" y2="317.4" stroke="#111" stroke-width="1" />
<line x1="236.8" y1="311.05" x2="239.4" y2="311.05" stroke="#111" stroke-width="1" />
<line x1="234.3" y1="304.7" x2="239.4" y2="304.7" stroke="#111" stroke-width="1" />
<text x="231.3" y="308.0" font-size="10.6" text-anchor="end" fill="#141414" stroke="#141414" stroke-width="0.15" >0</text>
<line x1="236.8" y1="298.34999999999997" x2="239.4" y2="298.34999999999997" stroke="#111" stroke-width="1" />
<line x1="234.3" y1="292.0" x2="239.4" y2="292.0" stroke="#111" stroke-width="1" />
<text x="231.3" y="295.3" font-size="10.6" text-anchor="end" fill="#141414" stroke="#141414" stroke-width="0.15" >2</text>
<line x1="236.8" y1="285.65" x2="239.4" y2="285.65" stroke="#111" stroke-width="1" />
<line x1="234.3" y1="279.3" x2="239.4" y2="279.3" stroke="#111" stroke-width="1" />
<text x="231.3" y="282.6" font-size="10.6" text-anchor="end" fill="#141414" stroke="#141414" stroke-width="0.15" >4</text>
<line x1="236.8" y1="272.95" x2="239.4" y2="272.95" stroke="#111" stroke-width="1" />
<line x1="234.3" y1="266.6" x2="239.4" y2="266.6" stroke="#111" stroke-width="1" />
<text x="231.3" y="269.90000000000003" font-size="10.6" text-anchor="end" fill="#141414" stroke="#141414" stroke-width="0.15" >6</text>
<line x1="236.8" y1="260.25" x2="239.4" y2="260.25" stroke="#111" stroke-width="1" />
<line x1="234.3" y1="253.89999999999998" x2="239.4" y2="253.89999999999998" stroke="#111" stroke-width="1" />
<text x="231.3" y="257.2" font-size="10.6" text-anchor="end" fill="#141414" stroke="#141414" stroke-width="0.15" >8</text>
<line x1="236.8" y1="247.54999999999998" x2="239.4" y2="247.54999999999998" stroke="#111" stroke-width="1" />
<line x1="234.3" y1="241.2" x2="239.4" y2="241.2" stroke="#111" stroke-width="1" />
<text x="231.3" y="244.5" font-size="10.6" text-anchor="end" fill="#141414" stroke="#141414" stroke-width="0.15" >10</text>
<line x1="236.8" y1="234.85" x2="239.4" y2="234.85" stroke="#111" stroke-width="1" />
<line x1="234.3" y1="228.5" x2="239.4" y2="228.5" stroke="#111" stroke-width="1" />
<text x="231.3" y="231.8" font-size="10.6" text-anchor="end" fill="#141414" stroke="#141414" stroke-width="0.15" >12</text>
<line x1="236.8" y1="222.14999999999998" x2="239.4" y2="222.14999999999998" stroke="#111" stroke-width="1" />
<line x1="239.4" y1="298.34999999999997" x2="422.2" y2="298.34999999999997" stroke="#c8c8c8" stroke-width="0.8" />
<line x1="239.4" y1="311.05" x2="422.2" y2="311.05" stroke="#c8c8c8" stroke-width="0.8" />
<line x1="239.4" y1="317.4" x2="422.2" y2="317.4" stroke="#111" stroke-width="1.1" />
<line x1="253.5" y1="317.3" x2="253.5" y2="322.2" stroke="#111" stroke-width="1" />
<text x="253.5" y="335.3" font-size="10.6" text-anchor="middle" fill="#141414" stroke="#141414" stroke-width="0.15" font-style="italic" >pbsP</text>
<line x1="284.4" y1="317.3" x2="284.4" y2="322.2" stroke="#111" stroke-width="1" />
<text x="284.4" y="335.3" font-size="10.6" text-anchor="middle" fill="#141414" stroke="#141414" stroke-width="0.15" font-style="italic" >bvaP</text>
<line x1="315.3" y1="317.3" x2="315.3" y2="322.2" stroke="#111" stroke-width="1" />
<text x="315.3" y="335.3" font-size="10.6" text-anchor="middle" fill="#141414" stroke="#141414" stroke-width="0.15" font-style="italic" >saeR</text>
<line x1="346.2" y1="317.3" x2="346.2" y2="322.2" stroke="#111" stroke-width="1" />
<text x="346.2" y="335.3" font-size="10.6" text-anchor="middle" fill="#141414" stroke="#141414" stroke-width="0.15" font-style="italic" >saeS</text>
<line x1="377.1" y1="317.3" x2="377.1" y2="322.2" stroke="#111" stroke-width="1" />
<text x="377.1" y="335.3" font-size="10.6" text-anchor="middle" fill="#141414" stroke="#141414" stroke-width="0.15" font-style="italic" >cylE</text>
<line x1="408.0" y1="317.3" x2="408.0" y2="322.2" stroke="#111" stroke-width="1" />
<text x="408.0" y="335.3" font-size="10.6" text-anchor="middle" fill="#141414" stroke="#141414" stroke-width="0.15" font-style="italic" >hvgA</text>
<rect x="254.4" y="223.6" width="9.5" height="81.1" fill="#dcdfee" stroke="#333" stroke-width="0.7" />
<rect x="274.29999999999995" y="245.5" width="9.4" height="59.19999999999999" fill="#7450a8" stroke="#1a1a2a" stroke-width="0.7" />
<rect x="305.2" y="270.9" width="9.4" height="33.80000000000001" fill="#7450a8" stroke="#1a1a2a" stroke-width="0.7" />
<rect x="316.2" y="267.1" width="9.5" height="37.599999999999966" fill="#dcdfee" stroke="#333" stroke-width="0.7" />
<rect x="336.09999999999997" y="275.1" width="9.4" height="29.599999999999966" fill="#7450a8" stroke="#1a1a2a" stroke-width="0.7" />
<rect x="347.09999999999997" y="263.4" width="9.5" height="41.30000000000001" fill="#dcdfee" stroke="#333" stroke-width="0.7" />
<rect x="378.0" y="285.6" width="9.5" height="19.099999999999966" fill="#dcdfee" stroke="#333" stroke-width="0.7" />
<rect x="408.9" y="274.4" width="9.5" height="30.30000000000001" fill="#dcdfee" stroke="#333" stroke-width="0.7" />
<line x1="239.4" y1="304.7" x2="422.2" y2="304.7" stroke="#000" stroke-width="1.3" />
<text x="247.0" y="303.7" font-size="8.2" text-anchor="middle" fill="#222" stroke="#222" stroke-width="0.15" >N/A</text>
<text x="246.8" y="295.8" font-size="7.4" text-anchor="middle" fill="#222" stroke="#222" stroke-width="0.15" >Δ</text>
<text x="290.6" y="303.7" font-size="8.2" text-anchor="middle" fill="#222" stroke="#222" stroke-width="0.15" >N/A</text>
<text x="290.40000000000003" y="295.8" font-size="7.4" text-anchor="middle" fill="#222" stroke="#222" stroke-width="0.15" >Δ</text>
<circle cx="256.9" cy="226.0" r="1.95" fill="#fff" stroke="#111" stroke-width="0.85" />
<circle cx="259.2" cy="224.6" r="1.95" fill="#fff" stroke="#111" stroke-width="0.85" />
<circle cx="261.4" cy="226.0" r="1.95" fill="#fff" stroke="#111" stroke-width="0.85" />
<circle cx="276.6" cy="245.4" r="1.95" fill="#fff" stroke="#111" stroke-width="0.85" />
<circle cx="279.2" cy="243.9" r="1.95" fill="#fff" stroke="#111" stroke-width="0.85" />
<circle cx="281.8" cy="245.6" r="1.95" fill="#fff" stroke="#111" stroke-width="0.85" />
<circle cx="307.3" cy="273.0" r="1.95" fill="#fff" stroke="#111" stroke-width="0.85" />
<circle cx="309.8" cy="267.5" r="1.95" fill="#fff" stroke="#111" stroke-width="0.85" />
<circle cx="312.3" cy="273.0" r="1.95" fill="#fff" stroke="#111" stroke-width="0.85" />
<line x1="309.8" y1="267.5" x2="309.8" y2="273" stroke="#333" stroke-width="0.8" />
<circle cx="318.8" cy="268.3" r="1.95" fill="#fff" stroke="#111" stroke-width="0.85" />
<circle cx="321.0" cy="267.4" r="1.95" fill="#fff" stroke="#111" stroke-width="0.85" />
<circle cx="323.4" cy="268.3" r="1.95" fill="#fff" stroke="#111" stroke-width="0.85" />
<circle cx="338.3" cy="276.3" r="1.95" fill="#fff" stroke="#111" stroke-width="0.85" />
<circle cx="340.9" cy="274.9" r="1.95" fill="#fff" stroke="#111" stroke-width="0.85" />
<circle cx="343.4" cy="276.3" r="1.95" fill="#fff" stroke="#111" stroke-width="0.85" />
<circle cx="349.8" cy="265.0" r="1.95" fill="#fff" stroke="#111" stroke-width="0.85" />
<circle cx="352.0" cy="263.6" r="1.95" fill="#fff" stroke="#111" stroke-width="0.85" />
<circle cx="354.0" cy="264.6" r="1.95" fill="#fff" stroke="#111" stroke-width="0.85" />
<circle cx="371.4" cy="300.2" r="1.95" fill="#fff" stroke="#111" stroke-width="0.85" />
<circle cx="369.2" cy="308.2" r="1.95" fill="#fff" stroke="#111" stroke-width="0.85" />
<circle cx="373.2" cy="306.4" r="1.95" fill="#fff" stroke="#111" stroke-width="0.85" />
<line x1="371.4" y1="300.2" x2="371.4" y2="307" stroke="#333" stroke-width="0.8" />
<circle cx="380.6" cy="287.0" r="1.95" fill="#fff" stroke="#111" stroke-width="0.85" />
<circle cx="383.0" cy="285.6" r="1.95" fill="#fff" stroke="#111" stroke-width="0.85" />
<circle cx="385.4" cy="286.6" r="1.95" fill="#fff" stroke="#111" stroke-width="0.85" />
<circle cx="399.0" cy="304.0" r="1.95" fill="#fff" stroke="#111" stroke-width="0.85" />
<circle cx="400.4" cy="306.8" r="1.95" fill="#fff" stroke="#111" stroke-width="0.85" />
<circle cx="403.0" cy="305.8" r="1.95" fill="#fff" stroke="#111" stroke-width="0.85" />
<circle cx="399.2" cy="308.6" r="1.95" fill="#fff" stroke="#111" stroke-width="0.85" />
<circle cx="411.2" cy="275.8" r="1.95" fill="#fff" stroke="#111" stroke-width="0.85" />
<circle cx="413.6" cy="274.4" r="1.95" fill="#fff" stroke="#111" stroke-width="0.85" />
<circle cx="416.0" cy="275.8" r="1.95" fill="#fff" stroke="#111" stroke-width="0.85" />
<text transform="translate(209.8,291.9) rotate(-90)" font-size="10.4" fill="#141414" stroke="#141414" stroke-width="0.15">FC (log<tspan font-size="7.2" dy="2.5">2</tspan><tspan font-size="10.4" dy="-2.5">)</tspan></text>
<rect x="216.8" y="205.3" width="5.8" height="5.5" fill="#7450a8" stroke="#2a2040" stroke-width="0.6" />
<text x="232.4" y="211.6" font-size="10.6" fill="#141414" stroke="#141414" stroke-width="0.15">SaeS<tspan font-size="7.4" dy="3.0" textLength="17.0" lengthAdjust="spacingAndGlyphs">T133A</tspan><tspan font-size="10.6" dy="-3.0" dx="1"> Δ</tspan><tspan font-style="italic">pbsP</tspan></text>
<rect x="329.3" y="205.3" width="5.6" height="5.4" fill="#dcdfee" stroke="#555" stroke-width="0.7" />
<text x="343.6" y="211.6" font-size="10.6" fill="#141414" stroke="#141414" stroke-width="0.15">SaeS<tspan font-size="7.4" dy="3.0" textLength="17.0" lengthAdjust="spacingAndGlyphs">T133A</tspan><tspan font-size="10.6" dy="-3.0" dx="1"> Δ</tspan><tspan font-style="italic">bvaP</tspan></text>
<text x="512.7" y="191.1" font-size="10.6" text-anchor="middle" fill="#3c3c3c" stroke="#3c3c3c" stroke-width="0.15" >SaeR</text>
<path d="M460.6,199.0 L460.6,195.4 Q460.6,193.4 462.6,193.4 L601.0,193.4 Q603.0,193.4 603.0,195.4 L603.0,199.0" fill="none" stroke="#555" stroke-width="0.9" />
<line x1="509.4" y1="193.4" x2="509.4" y2="204.7" stroke="#555" stroke-width="0.9" />
<path d="M457.9,196.4 L463.3,196.4 L460.6,201.5 Z" fill="#111" stroke="none" stroke-width="1" />
<path d="M600.3,196.4 L605.7,196.4 L603.0,201.5 Z" fill="#111" stroke="none" stroke-width="1" />
<path d="M448.8,211.3 L455.6,215.1 L448.8,218.9 Z" fill="#111" stroke="none" stroke-width="1" />
<line x1="455.4" y1="215.2" x2="461.0" y2="215.2" stroke="#333" stroke-width="0.9" />
<line x1="460.6" y1="215.2" x2="460.6" y2="207.3" stroke="#666" stroke-width="0.9" />
<path d="M460.40000000000003,207.0 L463.6,208.60000000000002 L460.40000000000003,210.20000000000002 Z" fill="#111" stroke="none" stroke-width="1" />
<path d="M461.0,213.1 L491.6,213.1 L491.6,211.3 L497.9,215.2 L491.6,219.2 L491.6,217.2 L461.0,217.2 Z" fill="#62bdaa" stroke="none" stroke-width="1" />
<line x1="499.0" y1="215.2" x2="499.0" y2="207.3" stroke="#666" stroke-width="0.9" />
<path d="M498.8,207.0 L502.0,208.60000000000002 L498.8,210.20000000000002 Z" fill="#111" stroke="none" stroke-width="1" />
<path d="M500.6,213.3 L512.4,213.3 L512.4,211.3 L517.8,215.2 L512.4,219.1 L512.4,217.1 L500.6,217.1 Z" fill="#fbb05c" stroke="none" stroke-width="1" />
<path d="M517.6,213.3 L535.2,213.3 L535.2,211.3 L541.9,215.2 L535.2,219.1 L535.2,217.1 L517.6,217.1 Z" fill="#fbb05c" stroke="none" stroke-width="1" />
<line x1="541.5" y1="215.2" x2="547.3" y2="215.2" stroke="#333" stroke-width="0.9" />
<path d="M546.6,215.2 L553.3,211.3 L553.3,219.1 Z" fill="#111" stroke="none" stroke-width="1" />
<text x="478.5" y="232.7" font-size="10.6" text-anchor="middle" fill="#3c3c3c" stroke="#3c3c3c" stroke-width="0.15" font-style="italic" >pbsP</text>
<text x="521.3" y="232.7" font-size="10.6" text-anchor="middle" fill="#3c3c3c" stroke="#3c3c3c" stroke-width="0.15" font-style="italic" >saeRS</text>
<path d="M590.0,211.0 L596.5,214.9 L590.0,218.7 Z" fill="#111" stroke="none" stroke-width="1" />
<line x1="596.2" y1="215.0" x2="603.6" y2="215.0" stroke="#333" stroke-width="0.9" />
<line x1="602.2" y1="215.0" x2="602.2" y2="207.3" stroke="#666" stroke-width="0.9" />
<path d="M602.0,207.0 L605.2,208.60000000000002 L602.0,210.20000000000002 Z" fill="#111" stroke="none" stroke-width="1" />
<path d="M603.6,212.8 L620.2,212.8 L620.2,211.0 L626.6,214.8 L620.2,218.5 L620.2,216.7 L603.6,216.7 Z" fill="#62bdaa" stroke="none" stroke-width="1" />
<line x1="626.8" y1="214.9" x2="638.5" y2="214.9" stroke="#333" stroke-width="0.9" />
<line x1="629.8" y1="214.9" x2="629.8" y2="207.2" stroke="#666" stroke-width="0.9" />
<path d="M629.5999999999999,206.89999999999998 L632.8,208.5 L629.5999999999999,210.1 Z" fill="#111" stroke="none" stroke-width="1" />
<path d="M638.8,212.2 L643.6,214.8 L638.8,217.4 Z" fill="#111" stroke="none" stroke-width="1" />
<text x="615.0" y="232.6" font-size="10.6" text-anchor="middle" fill="#3c3c3c" stroke="#3c3c3c" stroke-width="0.15" font-style="italic" >bvaP</text>
<line x1="476.7" y1="238.7" x2="476.7" y2="248.60000000000002" stroke="#444" stroke-width="0.75" />
<path d="M475.2,247.8 L478.2,247.8 L476.7,250.8 Z" fill="#333" stroke="none" stroke-width="1" />
<line x1="614.4" y1="237.8" x2="614.4" y2="248.60000000000002" stroke="#444" stroke-width="0.75" />
<path d="M612.9,247.8 L615.9,247.8 L614.4,250.8 Z" fill="#333" stroke="none" stroke-width="1" />
<rect x="446.1" y="265.8" width="17.0" height="4.8" fill="#dde0ec" stroke="#6cc0a6" stroke-width="0.8" />
<rect x="463.1" y="265.8" width="74.2" height="4.8" fill="#62bdaa" stroke="#6cc0a6" stroke-width="0.8" />
<rect x="537.3" y="265.8" width="5.7" height="4.8" fill="#111" stroke="#6cc0a6" stroke-width="0.8" />
<rect x="543.0" y="265.8" width="12.4" height="4.8" fill="#f6e6c0" stroke="#6cc0a6" stroke-width="0.8" />
<text x="447.9" y="263.7" font-size="8.6" text-anchor="start" fill="#3c3c3c" stroke="#3c3c3c" stroke-width="0.15" >SP</text>
<text x="496.2" y="262.9" font-size="8.6" text-anchor="middle" fill="#3c3c3c" stroke="#3c3c3c" stroke-width="0.15" >Adhesin</text>
<text x="545.9" y="264.4" font-size="8.2" text-anchor="middle" fill="#3c3c3c" stroke="#3c3c3c" stroke-width="0.15" >LPxTG</text>
<text x="539.0" y="277.8" font-size="8.2" text-anchor="start" fill="#3c3c3c" stroke="#3c3c3c" stroke-width="0.15" >C-pep</text>
<path d="M463.6,275.0 L463.6,277.2 L536.0,277.2 L536.0,275.0" fill="none" stroke="#555" stroke-width="0.8" />
<line x1="567.9" y1="267.3" x2="584" y2="267.3" stroke="#333" stroke-width="0.8" />
<path d="M583.2,265.8 L586.4,267.3 L583.2,268.8 Z" fill="#333" stroke="none" stroke-width="1" />
<text x="594.0" y="265.9" font-size="10.6" text-anchor="start" fill="#3c3c3c" stroke="#3c3c3c" stroke-width="0.15" >Adhesion</text>
<text x="594.0" y="278.9" font-size="10.6" text-anchor="start" fill="#3c3c3c" stroke="#3c3c3c" stroke-width="0.15" >Host interaction</text>
<line x1="489.6" y1="277.4" x2="489.6" y2="292.4" stroke="#555" stroke-width="1" />
<line x1="486.6" y1="292.4" x2="492.9" y2="292.4" stroke="#555" stroke-width="1" />
<text x="481.1" y="306.0" font-size="10.8" text-anchor="middle" fill="#3c3c3c" stroke="#3c3c3c" stroke-width="0.15" >Stk1/CovS/Abx1</text>
<line x1="489.6" y1="308.5" x2="489.6" y2="319.0" stroke="#333" stroke-width="0.9" />
<path d="M486.6,317.8 L492.6,317.8 L489.6,324.2 Z" fill="#222" stroke="none" stroke-width="1" />
<text x="490.5" y="335.1" font-size="10.6" text-anchor="middle" fill="#3c3c3c" stroke="#3c3c3c" stroke-width="0.15" >CovR</text>
<line x1="509.5" y1="332.4" x2="517.0" y2="332.4" stroke="#333" stroke-width="0.9" />
<line x1="517.2" y1="328.7" x2="517.2" y2="336.1" stroke="#333" stroke-width="1" />
<path d="M527.4,297.7 L523.4,297.7 L523.4,341.7 L527.4,341.7" fill="none" stroke="#444" stroke-width="1" />
<path d="M586.6,297.7 L590.4,297.7 L590.4,341.7 L586.6,341.7" fill="none" stroke="#444" stroke-width="1" />
<text x="557.8" y="305.4" font-size="7.9" text-anchor="middle" fill="#3c3c3c" stroke="#3c3c3c" stroke-width="0.15" font-style="italic" >cyl, hvgA,</text>
<text x="558.8" y="318.6" font-size="7.9" text-anchor="middle" fill="#3c3c3c" stroke="#3c3c3c" stroke-width="0.15" font-style="italic" >nucA, scpB2 ...</text>
<line x1="534.7" y1="331.4" x2="581.8" y2="331.4" stroke="#999" stroke-width="1" />
<line x1="530.2" y1="335.6" x2="537.6" y2="327.0" stroke="#444" stroke-width="0.7" />
<line x1="579.6" y1="335.6" x2="587.0" y2="327.0" stroke="#444" stroke-width="0.7" />
<line x1="532.4000000000001" y1="335.6" x2="539.8000000000001" y2="327.0" stroke="#444" stroke-width="0.7" />
<line x1="581.8000000000001" y1="335.6" x2="589.2" y2="327.0" stroke="#444" stroke-width="0.7" />
<line x1="545.5" y1="331.4" x2="545.5" y2="324.7" stroke="#666" stroke-width="0.9" />
<path d="M545.3,324.4 L548.5,326.0 L545.3,327.59999999999997 Z" fill="#111" stroke="none" stroke-width="1" />
<path d="M550.6,329.8 L567.1,329.8 L567.1,327.8 L573.7,331.7 L567.1,335.6 L567.1,333.6 L550.6,333.6 Z" fill="#e8650f" stroke="none" stroke-width="1" />
<text x="594.0" y="309.8" font-size="10.6" text-anchor="start" fill="#3c3c3c" stroke="#3c3c3c" stroke-width="0.15" >Cytotoxicity</text>
<text x="594.0" y="322.8" font-size="10.6" text-anchor="start" fill="#3c3c3c" stroke="#3c3c3c" stroke-width="0.15" >Adhesion</text>
<text x="594.0" y="336.8" font-size="10.6" text-anchor="start" fill="#3c3c3c" stroke="#3c3c3c" stroke-width="0.15" >Immunomodulation</text>
</svg></body></html>
